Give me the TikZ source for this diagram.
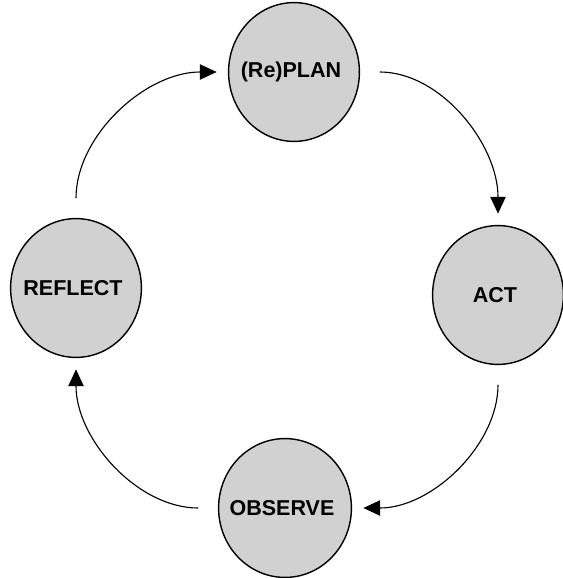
\documentclass[tikz,border=0pt]{standalone}
\usepackage{fontspec}
\setmainfont{Liberation Sans}
\usetikzlibrary{shapes.geometric, arrows.meta}

\begin{document}
\begin{tikzpicture}[x = 0.025cm, y = -0.025cm,
  every node/.style = {ellipse, draw, line width = 1pt, fill = black!18, inner xsep = -6pt, inner ysep = 0pt, minimum width = 3.27cm, minimum height = 3.47cm, font = \fontsize{15.3}{18}\selectfont\bfseries, align = center},
  cycle/.style = {-{Triangle[length = 12pt, width = 11pt]}, line width = 0.8pt, shorten <= 14pt, shorten >= 8pt}]

  \useasboundingbox (0, 0) rectangle (562, 578);

  \node (plan) at (294, 72) { (Re)PLAN };
  \node (act) at (498, 295) { ACT };
  \node (observe) at (285, 508) { OBSERVE };
  \node (reflect) at (76, 288) { REFLECT };

  \draw[cycle] (plan.east) to[out = 0, in = 90] (act.north);
  \draw[cycle] (act.south) to[out = -90, in = 0] (observe.east);
  \draw[cycle] (observe.west) to[out = 180, in = -90] (reflect.south);
  \draw[cycle] (reflect.north) to[out = 90, in = 180] (plan.west);

\end{tikzpicture}
\end{document}
